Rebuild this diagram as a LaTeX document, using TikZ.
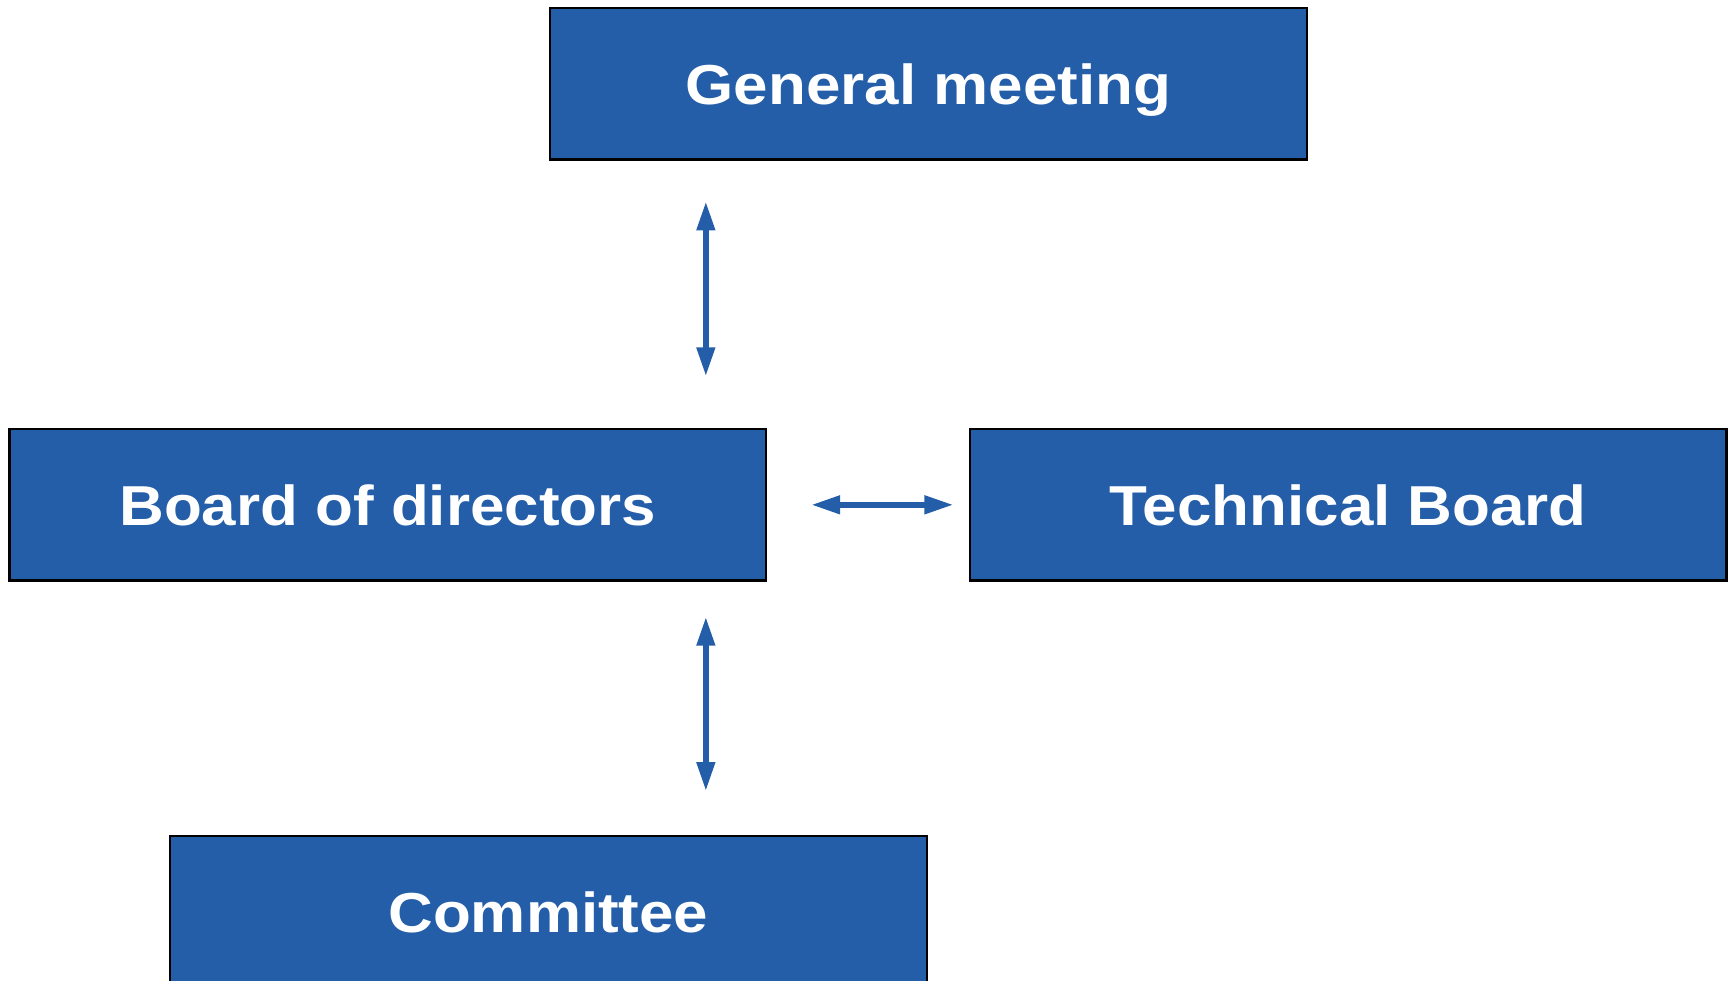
\documentclass[tikz,border=0pt]{standalone}
\usepackage{fontspec}
\setmainfont{Liberation Sans}[FakeStretch=1.1]
\usetikzlibrary{arrows.meta}
\definecolor{orgblue}{RGB}{36,93,168}

\begin{document}
\begin{tikzpicture}[
    unit/.style={rectangle, draw=black, line width=0.6pt, fill=orgblue, text=white,
      minimum width=6.85cm, minimum height=1.37cm, inner sep=0pt,
      text height=10.4pt, text depth=0pt,
      font=\fontsize{14.5}{17}\selectfont\bfseries},
    link/.style={draw=orgblue, line width=1.4pt, {Triangle[length=2.6mm, width=1.6mm]}-{Triangle[length=2.6mm, width=1.6mm]}}
  ]
      \useasboundingbox (0,0) rectangle (15.68,-8.88);

      \node[unit] (gm) at (8.405,-0.76) {General meeting};
      \node[unit] (bod) at (3.51,-4.57) {Board of directors};
      \node[unit] (tb) at (12.205,-4.57) {Technical Board};
      \node[unit] (com) at (4.965,-8.255) {Committee};
      \coordinate (mid) at (6.39,-4.57);

      \draw[link, shorten <=0.37cm, shorten >=0.47cm] (gm.south -| mid) -- (bod.north -| mid);
      \draw[link, shorten <=0.32cm, shorten >=0.40cm] (bod.south -| mid) -- (com.north -| mid);
      \draw[link, shorten <=0.40cm, shorten >=0.14cm] (bod.east) -- (tb.west);
    \end{tikzpicture}
\end{document}
